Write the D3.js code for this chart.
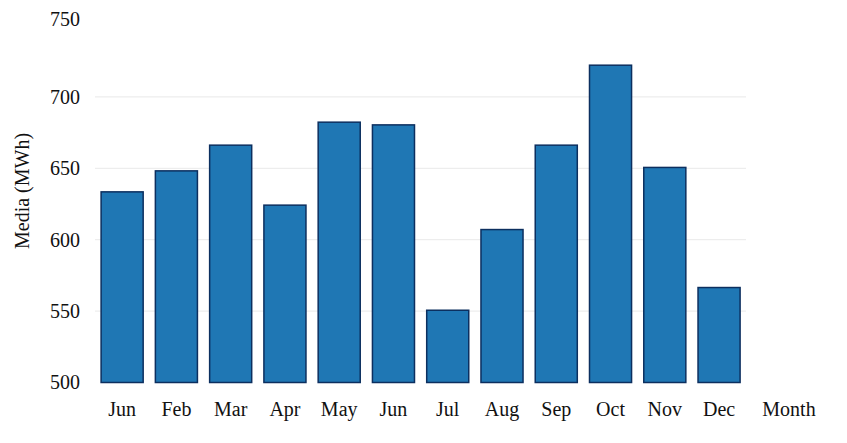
<!DOCTYPE html>
<html><head><meta charset="utf-8">
<script src="https://cdn.jsdelivr.net/npm/d3@7"></script>
<style>body{margin:0;background:#fff}svg{display:block}</style>
</head><body>
<svg id="c" width="847" height="443"></svg>
<script>
const categories = ["Jun","Feb","Mar","Apr","May","Jun ","Jul","Aug","Sep","Oct","Nov","Dec"];
const labels = ["Jun","Feb","Mar","Apr","May","Jun","Jul","Aug","Sep","Oct","Nov","Dec"];
const values = [633.5,648.2,666.2,624.2,682.3,680.4,550.6,607.1,666.2,722.2,650.6,566.5];
const yTicks = [500,550,600,650,700,750];
const gridTicks = [550,600,650,700];

const svg = d3.select("#c");
const font = "Liberation Serif, Times New Roman, serif";
const x = d3.scaleBand().domain(categories).range([95, 746.2]).paddingInner(0.225).paddingOuter(0.1125);
const y = d3.scaleLinear().domain([500,750]).range([382.5, 25.5]);

svg.append("g").selectAll("line").data(gridTicks).join("line")
  .attr("x1",95).attr("x2",746).attr("y1",d=>y(d)).attr("y2",d=>y(d))
  .attr("stroke","#e9e9e9").attr("stroke-width",1);

svg.append("g").selectAll("rect").data(values).join("rect")
  .attr("x",(d,i)=>x(categories[i]))
  .attr("width",x.bandwidth())
  .attr("y",d=>y(d))
  .attr("height",d=>y(500)-y(d))
  .attr("fill","#1f77b4").attr("stroke","#0c2f5f").attr("stroke-width",1.5);

const yAxis = svg.append("g").attr("transform","translate(80,0)")
  .call(d3.axisLeft(y).tickValues(yTicks).tickSize(0).tickPadding(0));
yAxis.select(".domain").remove();
yAxis.selectAll("text").attr("font-family",font).attr("font-size",20).attr("fill","#111")
  .attr("dy",d=>d===750?"0.0em":"0.32em");

const xAxis = svg.append("g").attr("transform","translate(0,383)")
  .call(d3.axisBottom(x).tickSize(0).tickPadding(0).tickFormat((d,i)=>labels[i]));
xAxis.select(".domain").remove();
xAxis.selectAll("text").attr("font-family",font).attr("font-size",20).attr("fill","#111")
  .attr("dy",0).attr("y",33);

svg.append("text").attr("x",789).attr("y",416).attr("text-anchor","middle")
  .attr("font-family",font).attr("font-size",20).attr("fill","#111").text("Month");

svg.append("text").attr("transform","translate(29,191) rotate(-90)").attr("text-anchor","middle")
  .attr("font-family",font).attr("font-size",20).attr("fill","#111").text("Media (MWh)");
</script>
</body></html>
